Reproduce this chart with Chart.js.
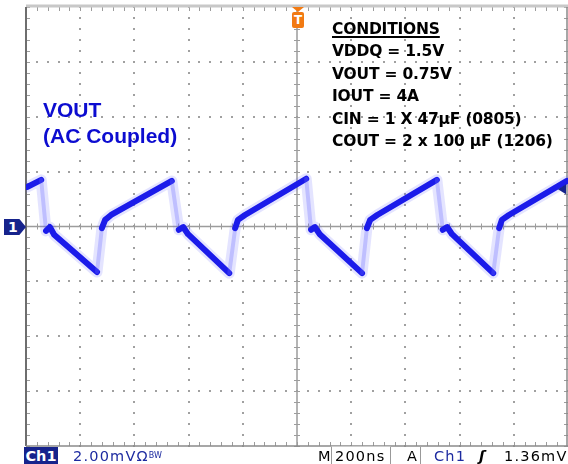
<!DOCTYPE html>
<html>
<head>
<meta charset="utf-8">
<script src="https://cdn.jsdelivr.net/npm/chart.js@4.4.0/dist/chart.umd.min.js"></script>
<style>
  html, body { margin: 0; padding: 0; background: #fff; }
  #wrap { position: relative; width: 568px; height: 464px; overflow: hidden; }
  #scope { position: absolute; left: 0; top: 0; }
  .lbl { position: absolute; white-space: nowrap; }
  #vout { left: 43px; top: 97px; font: bold 21px "Liberation Sans", Arial, sans-serif; line-height: 26px; color: #0c0cd0; }
  #cond { left: 332px; top: 18px; font: bold 15.5px "DejaVu Sans", sans-serif; line-height: 22.4px; color: #000; letter-spacing: -0.2px; }
  #cond u { text-decoration-thickness: 2px; text-underline-offset: 2px; }
  .bar { top: 447px; font: 14.5px "DejaVu Sans", sans-serif; line-height: 18px; letter-spacing: 1.2px; color: #000; }
  #ch1box { left: 24px; top: 447px; width: 34px; height: 17px; background: #16238c; color: #fff; font: bold 14.5px "DejaVu Sans", sans-serif; line-height: 18px; text-align: center; letter-spacing: 0; }
  #tbox { left: 331px; top: 446px; width: 58px; height: 17px; border-left: 1px solid #999; border-right: 1px solid #999; border-top: 1px solid #ccc; }
  #chmark { left: 4px; top: 219px; width: 22px; height: 16px; background: #16238c; clip-path: polygon(0 0, 70% 0, 100% 50%, 70% 100%, 0 100%); color: #fff; font: bold 14px "DejaVu Sans", sans-serif; line-height: 16px; padding-left: 4px; box-sizing: border-box; }
  #trig { left: 292px; top: 12px; width: 12px; height: 16px; background: #f27a12; border-radius: 2px; color: #fff; font: bold 12px "DejaVu Sans", sans-serif; line-height: 16px; text-align: center; }
  #trigtip { left: 292px; top: 7px; width: 0; height: 0; border-left: 6px solid transparent; border-right: 6px solid transparent; border-top: 5px solid #f27a12; }
</style>
</head>
<body>
<div id="wrap">
  <canvas id="scope" width="568" height="464"></canvas>
  <div class="lbl" id="vout">VOUT<br>(AC Coupled)</div>
  <div class="lbl" id="cond"><u>CONDITIONS</u><br>VDDQ = 1.5V<br>VOUT = 0.75V<br>IOUT = 4A<br>CIN = 1 X 47µF (0805)<br>COUT = 2 x 100 µF (1206)</div>
  <div class="lbl" id="trigtip"></div>
  <div class="lbl" id="trig">T</div>
  <div class="lbl" id="chmark">1</div>
  <div class="lbl" id="ch1box">Ch1</div>
  <div class="lbl bar" style="left:73px;color:#1c2aa0;">2.00mVΩ<span style="font-size:8px;letter-spacing:0;vertical-align:3px;">BW</span></div>
  <div class="lbl bar" style="left:318px;">M</div>
  <div class="lbl" id="tbox"></div>
  <div class="lbl bar" style="left:335px;">200ns</div>
  <div class="lbl bar" style="left:407px;border-right:1px solid #999;padding-right:2px;">A</div>
  <div class="lbl bar" style="left:434px;color:#1c2aa0;">Ch1</div>
  <div class="lbl bar" style="left:479px;font-style:italic;font-weight:bold;">ʃ</div>
  <div class="lbl bar" style="left:504px;">1.36mV</div>
</div>
<script>
// scope settings: 200 ns/div, 2 mV/div, 10 x 8 divisions
const nsPerDiv = 200;
const mvPerDiv = 2;
const triggerLevel = 1.36; // mV

// captured trace (time in ns, voltage in mV, AC coupled)
const timeNs = [4, 56, 74, 88, 104, 262, 280, 292, 314, 538, 564, 580, 598, 750, 772, 782, 808,
  1034, 1052, 1066, 1084, 1240, 1258, 1270, 1296, 1516, 1538, 1554, 1572, 1724, 1746, 1756, 1782, 1996];
const voutMv = [1.44, 1.70, -0.16, -0.02, -0.30, -1.66, -0.06, 0.24, 0.42, 1.66, -0.12, -0.02, -0.28, -1.70, -0.06, 0.24, 0.42,
  1.74, -0.12, -0.02, -0.28, -1.70, -0.06, 0.24, 0.42, 1.70, -0.12, -0.02, -0.28, -1.70, -0.06, 0.24, 0.42, 1.66];

const points = timeNs.map((t, i) => ({ x: t, y: voutMv[i] }));

// fast edges show up faint on the persistence display
function steep(c) {
  const dt = c.p1.parsed.x - c.p0.parsed.x;
  const dv = Math.abs(c.p1.parsed.y - c.p0.parsed.y);
  return dv / dt > 0.04;
}

const graticule = {
  id: 'graticule',
  beforeDatasetsDraw(chart) {
    const { ctx, chartArea: a, scales: { x, y } } = chart;
    const minorX = nsPerDiv / 5, minorY = mvPerDiv / 5;
    ctx.save();
    // dotted major lines
    ctx.fillStyle = '#a0a0a0';
    for (let i = 1; i < 10; i++) {
      if (i === 5) continue;
      const px = Math.round(x.getPixelForValue(i * nsPerDiv));
      for (let v = -8; v <= 8.001; v += minorY) {
        ctx.fillRect(px - 1, Math.round(y.getPixelForValue(v)) - 1, 2, 2);
      }
    }
    for (let j = -3; j <= 3; j++) {
      if (j === 0) continue;
      const py = Math.round(y.getPixelForValue(j * mvPerDiv));
      for (let t = 0; t <= 2000.001; t += minorX) {
        ctx.fillRect(Math.round(x.getPixelForValue(t)) - 1, py - 1, 2, 2);
      }
    }
    // centre cross with minor ticks
    const cx = x.getPixelForValue(5 * nsPerDiv), cy = y.getPixelForValue(0);
    ctx.strokeStyle = '#9c9c9c';
    ctx.lineWidth = 1.5;
    ctx.beginPath();
    ctx.moveTo(a.left, cy); ctx.lineTo(a.right, cy);
    ctx.moveTo(cx, a.top); ctx.lineTo(cx, a.bottom);
    ctx.stroke();
    ctx.lineWidth = 1;
    ctx.beginPath();
    for (let t = 0; t <= 2000.001; t += minorX) {
      const px = Math.round(x.getPixelForValue(t)) + 0.5;
      ctx.moveTo(px, cy - 3); ctx.lineTo(px, cy + 3);
      ctx.moveTo(px, a.bottom); ctx.lineTo(px, a.bottom - 4);
      ctx.moveTo(px, a.top); ctx.lineTo(px, a.top + 4);
    }
    for (let v = -8; v <= 8.001; v += minorY) {
      const py = Math.round(y.getPixelForValue(v)) + 0.5;
      ctx.moveTo(cx - 3, py); ctx.lineTo(cx + 3, py);
      ctx.moveTo(a.left, py); ctx.lineTo(a.left + 4, py);
      ctx.moveTo(a.right, py); ctx.lineTo(a.right - 4, py);
    }
    ctx.stroke();
    // frame
    ctx.strokeStyle = '#c8c8c8';
    ctx.lineWidth = 3;
    ctx.beginPath();
    ctx.moveTo(a.left, a.top - 1); ctx.lineTo(a.right, a.top - 1);
    ctx.stroke();
    ctx.strokeStyle = '#6e6e6e';
    ctx.lineWidth = 2;
    ctx.beginPath();
    ctx.moveTo(a.left, a.top); ctx.lineTo(a.left, a.bottom);
    ctx.stroke();
    ctx.strokeStyle = '#8a8a8a';
    ctx.lineWidth = 1.5;
    ctx.beginPath();
    ctx.moveTo(a.left, a.bottom); ctx.lineTo(a.right, a.bottom);
    ctx.moveTo(a.right - 1, a.top); ctx.lineTo(a.right - 1, a.bottom);
    ctx.stroke();
    ctx.restore();
  },
  afterDatasetsDraw(chart) {
    const { ctx, chartArea: a, scales: { y } } = chart;
    const py = y.getPixelForValue(triggerLevel);
    ctx.save();
    ctx.fillStyle = '#16238c';
    ctx.beginPath();
    ctx.moveTo(a.right - 10, py);
    ctx.lineTo(a.right - 2, py - 5);
    ctx.lineTo(a.right - 2, py + 5);
    ctx.closePath();
    ctx.fill();
    ctx.restore();
  }
};

new Chart(document.getElementById('scope').getContext('2d'), {
  type: 'line',
  data: {
    datasets: [
      {
        label: 'persistence',
        data: points,
        borderColor: 'rgba(90, 90, 255, 0.16)',
        borderWidth: 11,
        pointRadius: 0,
        tension: 0,
        borderJoinStyle: 'round',
        borderCapStyle: 'round'
      },
      {
        label: 'VOUT',
        data: points,
        borderColor: '#1010e6',
        borderWidth: 6,
        pointRadius: 0,
        tension: 0,
        borderJoinStyle: 'round',
        borderCapStyle: 'round',
        segment: {
          borderColor: c => steep(c) ? 'rgba(110, 110, 255, 0.3)' : undefined,
          borderWidth: c => steep(c) ? 4 : undefined
        }
      }
    ]
  },
  options: {
    responsive: false,
    animation: false,
    layout: { padding: { left: 26, top: 7, right: 0, bottom: 18 } },
    scales: {
      x: { type: 'linear', min: 0, max: 10 * nsPerDiv, display: false },
      y: { min: -4 * mvPerDiv, max: 4 * mvPerDiv, display: false }
    },
    plugins: {
      legend: { display: false },
      tooltip: { enabled: false }
    }
  },
  plugins: [graticule]
});
</script>
</body>
</html>
